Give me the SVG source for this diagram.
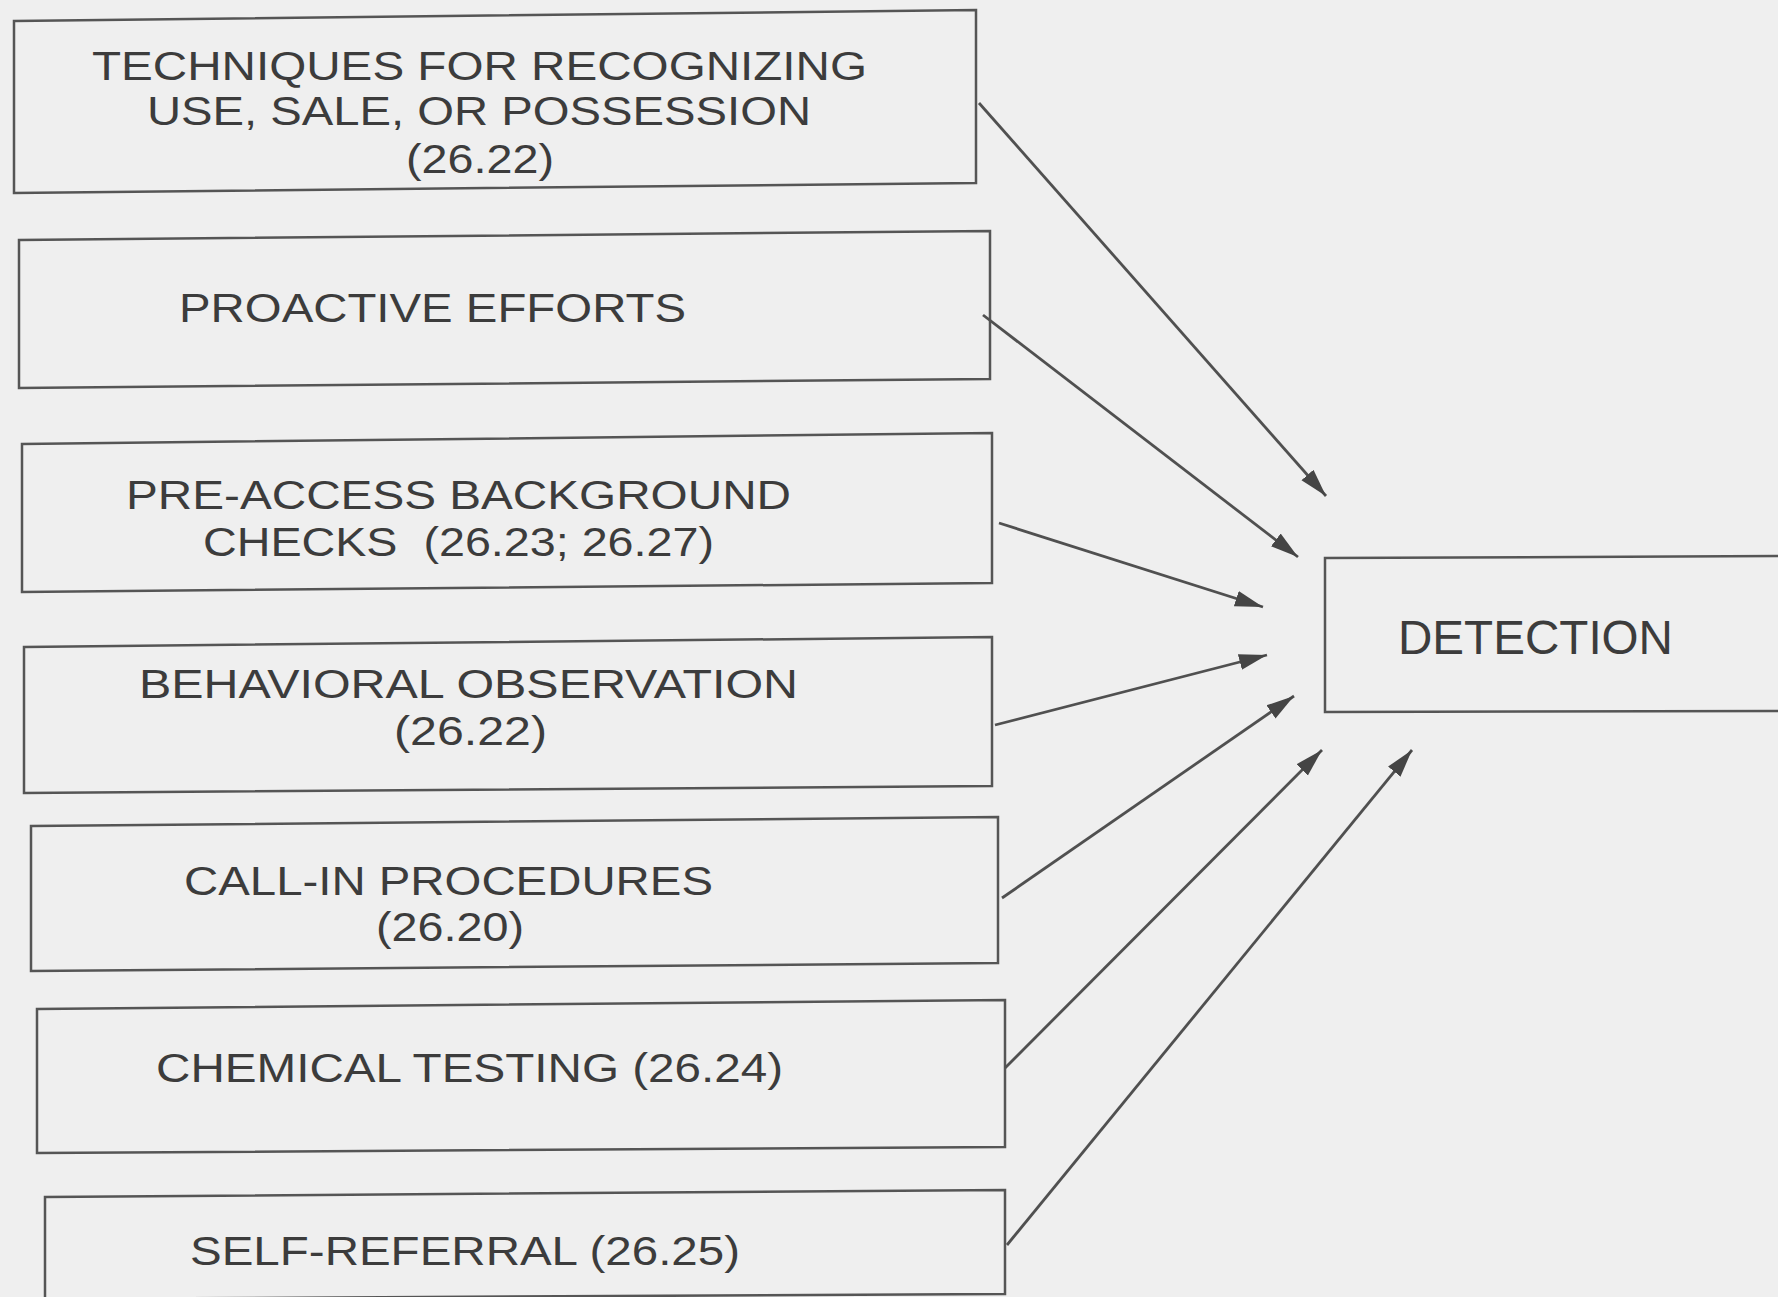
<svg xmlns="http://www.w3.org/2000/svg" width="1778" height="1297" viewBox="0 0 1778 1297">
<style>
.bg{fill:#efefef}
.box{fill:none;stroke:#555;stroke-width:2.5}
.t{font-family:"Liberation Sans",Arial,sans-serif;font-size:40px;fill:#3c3c3c;white-space:pre}
.d{font-family:"Liberation Sans",Arial,sans-serif;font-size:47.5px;fill:#3c3c3c}
.arr{stroke:#505050;stroke-width:2.8;fill:none;marker-end:url(#ah)}
</style>
<defs>
<marker id="ah" markerUnits="userSpaceOnUse" markerWidth="30" markerHeight="18" refX="28" refY="9" orient="auto">
<path d="M0,1 L28,9 L0,17 z" fill="#454545"/>
</marker>
</defs>
<rect class="bg" x="0" y="0" width="1778" height="1297"/>
<g id="n1">
<polygon class="box" points="14,21 976,10 976,183 14,193"/>
<text class="t" x="92" y="80" textLength="775" lengthAdjust="spacingAndGlyphs">TECHNIQUES FOR RECOGNIZING</text>
<text class="t" x="147" y="125" textLength="664" lengthAdjust="spacingAndGlyphs">USE, SALE, OR POSSESSION</text>
<text class="t" x="406" y="173" textLength="148" lengthAdjust="spacingAndGlyphs">(26.22)</text>
</g>
<g id="n2">
<polygon class="box" points="19,240 990,231 990,379 19,388"/>
<text class="t" x="179" y="322" textLength="507" lengthAdjust="spacingAndGlyphs">PROACTIVE EFFORTS</text>
</g>
<g id="n3">
<polygon class="box" points="22,444 992,433 992,583 22,592"/>
<text class="t" x="126" y="509" textLength="665" lengthAdjust="spacingAndGlyphs">PRE-ACCESS BACKGROUND</text>
<text class="t" x="203" y="556" textLength="511" lengthAdjust="spacingAndGlyphs">CHECKS  (26.23; 26.27)</text>
</g>
<g id="n4">
<polygon class="box" points="24,647 992,637 992,786 24,793"/>
<text class="t" x="139" y="698" textLength="659" lengthAdjust="spacingAndGlyphs">BEHAVIORAL OBSERVATION</text>
<text class="t" x="394" y="745" textLength="153" lengthAdjust="spacingAndGlyphs">(26.22)</text>
</g>
<g id="n5">
<polygon class="box" points="31,826 998,817 998,963 31,971"/>
<text class="t" x="184" y="895" textLength="529" lengthAdjust="spacingAndGlyphs">CALL-IN PROCEDURES</text>
<text class="t" x="376" y="941" textLength="148" lengthAdjust="spacingAndGlyphs">(26.20)</text>
</g>
<g id="n6">
<polygon class="box" points="37,1009 1005,1000 1005,1147 37,1153"/>
<text class="t" x="156" y="1082" textLength="627" lengthAdjust="spacingAndGlyphs">CHEMICAL TESTING (26.24)</text>
</g>
<g id="n7">
<polygon class="box" points="45,1197 1005,1190 1005,1294 45,1299"/>
<text class="t" x="190" y="1265" textLength="550" lengthAdjust="spacingAndGlyphs">SELF-REFERRAL (26.25)</text>
</g>
<g id="n8">
<polygon class="box" points="1325,558 1790,556 1790,711 1325,712"/>
<text class="d" x="1398" y="654" textLength="275" lengthAdjust="spacingAndGlyphs">DETECTION</text>
</g>
<g id="connectors">
<line class="arr" x1="979" y1="103" x2="1326" y2="496"/>
<line class="arr" x1="983" y1="315" x2="1298" y2="557"/>
<line class="arr" x1="999" y1="523" x2="1263" y2="607"/>
<line class="arr" x1="995" y1="725" x2="1267" y2="655"/>
<line class="arr" x1="1002" y1="898" x2="1294" y2="696"/>
<line class="arr" x1="1005" y1="1068" x2="1322" y2="750"/>
<line class="arr" x1="1007" y1="1245" x2="1412" y2="750"/>
</g>
</svg>
